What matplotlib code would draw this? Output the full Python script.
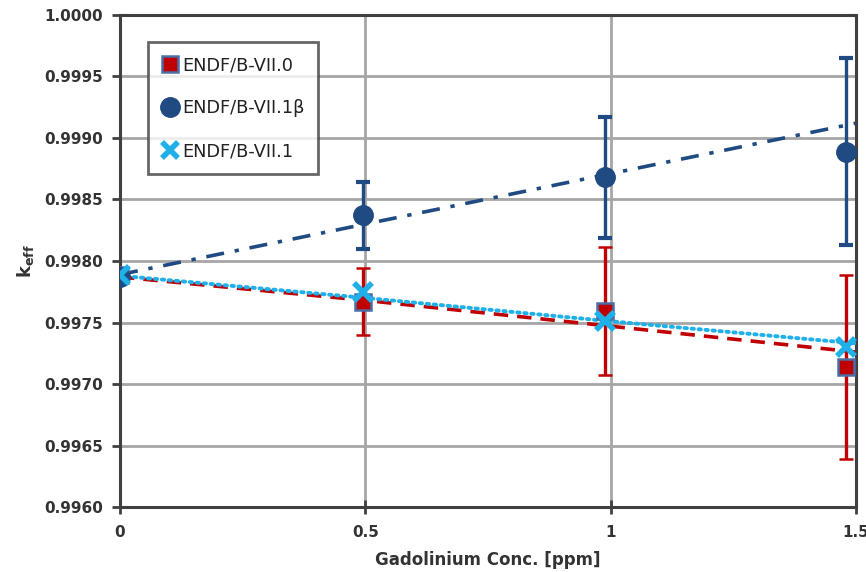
"""k_eff vs gadolinium concentration for three ENDF libraries."""

import matplotlib
matplotlib.use('Agg')
import matplotlib.pyplot as plt
from matplotlib.lines import Line2D
from matplotlib.ticker import FormatStrFormatter

GD_PPM = [0.0, 0.495, 0.988, 1.48]

KEFF_B70 = [0.99789, 0.99767, 0.99759, 0.99714]
ERR_B70 = [0.0, 0.00027, 0.00052, 0.00075]

KEFF_B71B = [0.99787, 0.99837, 0.99868, 0.99889]
ERR_B71B = [0.0, 0.00027, 0.00049, 0.00076]

KEFF_B71 = [0.99789, 0.99775, 0.99751, 0.99730]

# trendlines as drawn in the original
TREND_X = [0.0, 0.5, 1.0, 1.5]
TREND_B70 = [0.99787, 0.99768, 0.99747, 0.99726]
TREND_B71B = [0.99789, 0.99830, 0.99871, 0.99912]
TREND_B71 = [0.99788, 0.99770, 0.99751, 0.99733]

X_TICKS = [0, 0.5, 1, 1.5]
X_TICKLABELS = ['0', '0.5', '1', '1.5']

RED = '#c00000'
NAVY = '#1f4a82'
CYAN = '#1fb0ea'
EDGE = '#4a6ea8'
SPINE = '#404040'
GRID = '#a6a6a6'

plt.rcParams['font.family'] = 'DejaVu Sans'

fig = plt.figure(figsize=(8.66, 5.72), dpi=100)
ax = fig.add_axes([0.1386, 0.1136, 0.8496, 0.8602])

# trendlines
ax.plot(TREND_X, TREND_B71B, color=NAVY, linewidth=2.6,
        dashes=(5, 3, 1.2, 3), zorder=2)
ax.plot(TREND_X, TREND_B70, color=RED, linewidth=2.6,
        dashes=(4, 2.5), zorder=2)
ax.plot(TREND_X, TREND_B71, color=CYAN, linewidth=2.8,
        linestyle=(0, (0.6, 1.2)), dash_capstyle='round', zorder=3)

# data with error bars
ax.errorbar(GD_PPM, KEFF_B70, yerr=ERR_B70, fmt='s', color=RED,
            markerfacecolor=RED, markeredgecolor=EDGE, markeredgewidth=1.8,
            markersize=11, elinewidth=2.4, capsize=5, capthick=2.4, zorder=4)
ax.errorbar(GD_PPM, KEFF_B71B, yerr=ERR_B71B, fmt='o', color=NAVY,
            markersize=14, elinewidth=2.4, capsize=5, capthick=3, zorder=4)
ax.plot(GD_PPM, KEFF_B71, linestyle='none', marker='x', color=CYAN,
        markersize=13, markeredgewidth=4, zorder=5)

ax.set_xlim(0, 1.5)
ax.set_ylim(0.9960, 1.0000)
ax.set_xticks(X_TICKS)
ax.set_xticklabels(X_TICKLABELS)
ax.set_yticks([0.9960 + 0.0005 * i for i in range(9)])
ax.yaxis.set_major_formatter(FormatStrFormatter('%.4f'))

ax.grid(True, color=GRID, linewidth=2)
ax.set_axisbelow(True)
for sp in ax.spines.values():
    sp.set_color(SPINE)
    sp.set_linewidth(2.2)

ax.tick_params(axis='y', direction='out', length=6, width=2, color=SPINE,
               labelsize=11, labelcolor='#333333', pad=6)
ax.tick_params(axis='x', direction='inout', length=10, width=2, color=SPINE,
               labelsize=11, labelcolor='#333333', pad=8)
for lbl in ax.get_xticklabels() + ax.get_yticklabels():
    lbl.set_fontweight('bold')

ax.set_xlabel('Gadolinium Conc. [ppm]', fontsize=12, fontweight='bold',
              color='#333333', labelpad=8)
ax.set_ylabel('k$_{\\mathregular{eff}}$', fontsize=13, fontweight='bold',
              color='#333333', labelpad=6)

# legend shows markers only
handles = [
    Line2D([], [], linestyle='none', marker='s', markersize=11,
           markerfacecolor=RED, markeredgecolor=EDGE, markeredgewidth=1.8),
    Line2D([], [], linestyle='none', marker='o', markersize=14, color=NAVY),
    Line2D([], [], linestyle='none', marker='x', markersize=12,
           markeredgewidth=4, color=CYAN),
]
labels = ['ENDF/B-VII.0', 'ENDF/B-VII.1\u03b2', 'ENDF/B-VII.1']
leg = ax.legend(handles, labels, loc='upper left',
                bbox_to_anchor=(0.038, 0.945),
                fontsize=12.8, frameon=True, fancybox=False,
                handlelength=0.9, handletextpad=0.2, labelspacing=1.4,
                borderpad=0.8, borderaxespad=0)
leg.get_frame().set_edgecolor(SPINE)
leg.get_frame().set_linewidth(2)
for t in leg.get_texts():
    t.set_color('#222222')

fig.savefig('out.png', dpi=100)
